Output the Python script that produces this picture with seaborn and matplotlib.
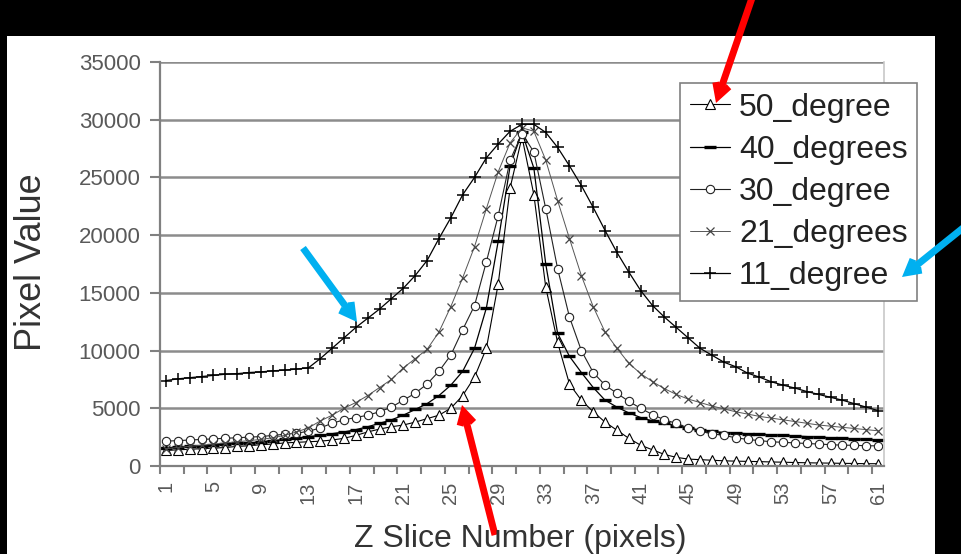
import numpy as np
import pandas as pd
import matplotlib
matplotlib.use("Agg")
import matplotlib.pyplot as plt
from matplotlib.patches import Rectangle
import seaborn as sns

# ---------------- data ----------------
z_slice = list(range(1, 62))
x_tick_labels = list(range(1, 62, 4))
y_ticks = list(range(0, 35001, 5000))

deg50 = [1350, 1400, 1450, 1500, 1550, 1600, 1700, 1750, 1850, 1900,
         2000, 2050, 2100, 2150, 2250, 2400, 2650, 2950, 3200, 3400,
         3550, 3800, 4100, 4400, 5000, 6100, 7700, 10200, 15800, 24100,
         28500, 23500, 15500, 10700, 7100, 5700, 4700, 3800, 3100, 2400,
         1800, 1400, 1000, 750, 600, 550, 500, 450, 420, 400,
         380, 350, 330, 300, 280, 260, 250, 230, 220, 200, 200]
deg40 = [1550, 1650, 1700, 1750, 1800, 1900, 1950, 2000, 2100, 2200,
         2300, 2400, 2550, 2650, 2800, 2950, 3150, 3400, 3700, 4000,
         4400, 4900, 5400, 6100, 7000, 8200, 10200, 13700, 19500, 26000,
         28900, 25800, 17500, 11500, 9500, 8100, 6800, 5700, 5100, 4600,
         4200, 3900, 3700, 3500, 3300, 3100, 3000, 2900, 2850, 2800,
         2750, 2700, 2650, 2600, 2550, 2500, 2450, 2400, 2350, 2300, 2250]
deg30 = [2150, 2200, 2250, 2300, 2350, 2400, 2450, 2500, 2550, 2650,
         2750, 2850, 3000, 3300, 3700, 4000, 4200, 4400, 4700, 5100,
         5700, 6300, 7100, 8200, 9600, 11800, 13900, 17700, 21700, 26500,
         28800, 27200, 22300, 17100, 12900, 10000, 8100, 7000, 6300, 5600,
         5000, 4450, 4000, 3700, 3300, 3000, 2800, 2650, 2450, 2300,
         2200, 2100, 2050, 2000, 1950, 1900, 1850, 1800, 1800, 1750, 1750]
deg21 = [1500, 1600, 1700, 1800, 1900, 2000, 2100, 2200, 2300, 2450,
         2650, 2950, 3300, 3900, 4400, 5000, 5500, 6100, 6800, 7500,
         8500, 9300, 10100, 11600, 13800, 16300, 19000, 22300, 25500, 28000,
         29300, 29000, 26500, 23000, 19700, 16500, 13800, 11600, 10200, 8900,
         8000, 7300, 6700, 6200, 5800, 5500, 5200, 4950, 4700, 4500,
         4300, 4150, 4000, 3850, 3700, 3550, 3450, 3350, 3250, 3150, 3050]
deg11 = [7400, 7550, 7650, 7750, 7850, 7950, 8000, 8100, 8150, 8250,
         8300, 8400, 8500, 9300, 10200, 11100, 12000, 12800, 13600, 14500,
         15400, 16500, 17800, 19700, 21500, 23500, 25000, 26700, 27900, 29000,
         29600, 29600, 28900, 27600, 26000, 24300, 22400, 20400, 18500, 16800,
         15200, 13900, 12900, 12000, 11100, 10200, 9600, 9000, 8600, 8050,
         7700, 7300, 7000, 6750, 6450, 6200, 5950, 5700, 5400, 5100, 4800]

series_names = ["50_degree", "40_degrees", "30_degree", "21_degrees", "11_degree"]
series_values = [deg50, deg40, deg30, deg21, deg11]

# ---------------- style ----------------
sns.set_style("white")
plt.rcParams["font.family"] = ["Liberation Sans", "DejaVu Sans"]

W, H = 961, 554
fig = plt.figure(figsize=(W / 100, H / 100), dpi=100, facecolor="black")
fig.patches.append(Rectangle((7 / W, 0), (935 - 7) / W, (H - 36) / H,
                             transform=fig.transFigure, facecolor="white",
                             edgecolor="none", zorder=-5))
ax = fig.add_axes([160 / W, 88 / H, 724 / W, 404 / H])
ax.set_facecolor("white")

styles = {
    "50_degree": dict(marker="^", markersize=7, markerfacecolor="white",
                      markeredgecolor="black", markeredgewidth=0.8,
                      color="black", linewidth=0.8),
    "40_degrees": dict(marker="_", markersize=9, markeredgewidth=2.4,
                       markeredgecolor="black", color="black", linewidth=0.9),
    "30_degree": dict(marker="o", markersize=6, markerfacecolor="white",
                      markeredgecolor="#222222", markeredgewidth=0.8,
                      color="#222222", linewidth=0.8),
    "21_degrees": dict(marker="x", markersize=6, markeredgewidth=0.9,
                       markeredgecolor="#444444", color="#555555", linewidth=0.7),
    "11_degree": dict(marker="+", markersize=9, markeredgewidth=1.1,
                      markeredgecolor="black", color="black", linewidth=0.9),
}

for name, vals in zip(series_names, series_values):
    df = pd.DataFrame({"z": z_slice, "v": vals})
    sns.lineplot(data=df, x="z", y="v", ax=ax, label=name, legend=False,
                 **styles[name])

ax.set_xlim(0.5, 61.5)
ax.set_ylim(0, 35000)
ax.set_yticks(y_ticks)
ax.set_yticklabels([str(v) for v in y_ticks])
ax.yaxis.grid(True, color="#8c8c8c", linewidth=1.8)
ax.xaxis.grid(False)
ax.set_axisbelow(True)

ax.set_xticks(x_tick_labels)
ax.set_xticklabels([str(v) for v in x_tick_labels])
ax.set_xticks(np.arange(0.5, 61.0, 2), minor=True)
ax.tick_params(axis="x", which="major", length=0, pad=11, rotation=90,
               labelsize=14.5, labelcolor="#595959")
ax.tick_params(axis="x", which="minor", length=6, width=1.5, color="#808080",
               direction="out", bottom=True)
ax.tick_params(axis="y", which="major", length=7, width=1.5, color="#808080",
               pad=7, labelsize=16, labelcolor="#595959", left=True)

for s in ["left", "bottom"]:
    ax.spines[s].set_color("#808080")
    ax.spines[s].set_linewidth(1.6)
ax.spines["top"].set_visible(False)
ax.spines["right"].set_color("#c8c8c8")
ax.spines["right"].set_linewidth(1.2)
ax.set_xlabel("")
ax.set_ylabel("")

fig.text(32 / W, 1 - 262 / H, "Pixel Value", rotation=90, ha="center",
         va="center", fontsize=26, color="#333333")
fig.text(520 / W, 7 / H, "Z Slice Number (pixels)", ha="center",
         va="baseline", fontsize=23, color="#333333")

handles, labels = ax.get_legend_handles_labels()
leg = ax.legend(handles, labels, loc="upper left",
                bbox_to_anchor=(680 / W, 1 - 83 / H), bbox_transform=fig.transFigure,
                borderaxespad=0, frameon=True, fancybox=False, fontsize=23,
                handlelength=1.25, handletextpad=0.3, labelspacing=0.38,
                borderpad=0.3, framealpha=1)
leg.get_frame().set_edgecolor("#808080")
leg.get_frame().set_linewidth(1.2)
for t in leg.get_texts():
    t.set_color("#222222")

# annotation arrows
def arrow(tail, tip, color):
    ax.annotate("", xy=tip, xycoords="figure pixels", xytext=tail,
                textcoords="figure pixels", annotation_clip=False, zorder=20,
                arrowprops=dict(arrowstyle="->, head_length=0.9, head_width=0.5",
                                color=color, lw=5, shrinkA=0, shrinkB=0,
                                joinstyle="miter", capstyle="butt"))

arrow((752, 556), (716, 451), "#ff0000")
arrow((495, 19), (462, 149), "#ff0000")
arrow((303, 306), (357, 232), "#00b0f0")
arrow((968, 330), (902, 277), "#00b0f0")

fig.savefig("out.png", dpi=100, facecolor="black")
